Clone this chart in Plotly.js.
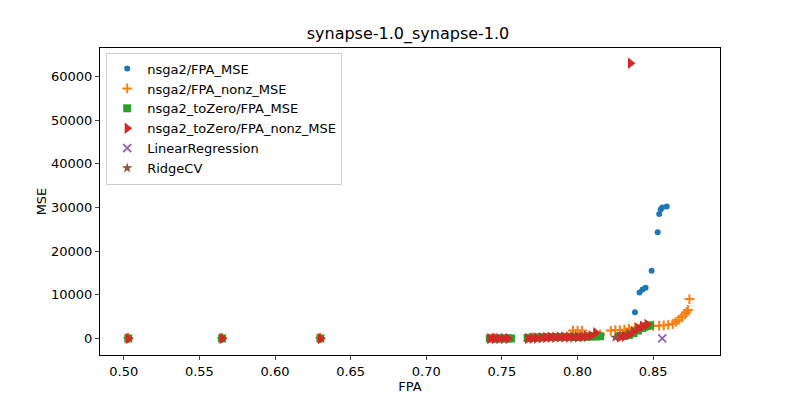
<!DOCTYPE html>
<html><head><script src="https://cdn.plot.ly/plotly-3.0.1.min.js"></script></head>
<body style="margin:0"><div id="c" style="width:800px;height:400px"></div>
<script>
const mseX = [0.503,0.565,0.630,0.745,0.752,0.772,0.790,0.805,0.815,0.830,0.838,0.841,0.843,0.845,0.849,0.853,0.854,0.855,0.856,0.859];
const mseY = [50,60,70,80,90,120,200,300,500,800,6000,10500,11200,11600,15500,24300,28500,29500,30000,30200];
const nonzX = [0.503,0.565,0.630,0.745,0.770,0.797,0.800,0.803,0.815,0.822,0.825,0.828,0.831,0.834,0.838,0.842,0.846,0.850,0.854,0.857,0.860,0.863,0.865,0.867,0.869,0.871,0.872,0.873,0.874];
const nonzY = [100,100,100,100,200,1800,1800,1800,900,1800,1900,1900,2000,2200,2500,2700,2800,2900,2900,3000,3100,3300,3800,4300,4900,5500,6000,6500,9000];
const tzX = [0.503,0.565,0.630,0.742,0.745,0.748,0.751,0.754,0.756,0.767,0.770,0.773,0.776,0.779,0.782,0.785,0.788,0.791,0.794,0.797,0.800,0.803,0.806,0.809,0.812,0.815,0.828,0.831,0.834,0.837,0.840,0.843,0.846,0.848];
const tzY = [0,0,0,0,0,0,0,0,0,100,150,200,250,250,300,300,300,300,350,350,350,400,400,450,450,500,500,600,800,1200,1800,2400,2800,3000];
const tzNzX = [0.503,0.565,0.630,0.742,0.745,0.748,0.751,0.754,0.767,0.770,0.773,0.776,0.779,0.782,0.785,0.788,0.791,0.794,0.797,0.800,0.803,0.806,0.809,0.812,0.828,0.831,0.834,0.835,0.837,0.840,0.843,0.846];
const tzNzY = [0,0,0,0,0,0,0,0,0,50,100,150,200,250,250,300,300,300,350,350,400,500,600,1300,300,500,900,63000,1500,2300,2800,3200];
const lrX = [0.856], lrY = [0];
const rcX = [0.825], rcY = [200];
const yTicks = [0,10000,20000,30000,40000,50000,60000];
const yTickText = ['0','10000','20000','30000','40000','50000','60000'];
const tr = (n,x,y,sym,col,sz) => ({type:'scatter',mode:'markers',name:n,x:x,y:y,marker:{symbol:sym,color:col,size:sz}});
const data = [
 tr('nsga2/FPA_MSE',mseX,mseY,'circle','#1f77b4',6),
 tr('nsga2/FPA_nonz_MSE',nonzX,nonzY,'cross-thin-open','#ff7f0e',7),
 tr('nsga2_toZero/FPA_MSE',tzX,tzY,'square','#2ca02c',8),
 tr('nsga2_toZero/FPA_nonz_MSE',tzNzX,tzNzY,'triangle-right','#d62728',10),
 tr('LinearRegression',lrX,lrY,'x-thin-open','#9467bd',8),
 tr('RidgeCV',rcX,rcY,'star','#8c564b',8)
];
data[1].marker.line={width:2,color:'#ff7f0e'};
data[4].marker.line={width:2,color:'#9467bd'};
const ax = {showgrid:false,zeroline:false,showline:true,mirror:true,linecolor:'#000',ticks:'outside',ticklen:4,tickfont:{size:13}};
Plotly.newPlot('c',data,{
 width:800,height:400,margin:{l:100,r:80,t:48,b:45},
 font:{family:'DejaVu Sans',size:13,color:'#000'},
 title:{text:'synapse-1.0_synapse-1.0',x:0.51,y:0.93,font:{size:16}},
 xaxis:Object.assign({},ax,{range:[0.4843,0.8942],dtick:0.05,tickformat:'.2f',title:{text:'FPA',standoff:4,font:{size:13}}}),
 yaxis:Object.assign({},ax,{range:[-3800,66500],tickvals:yTicks,ticktext:yTickText,title:{text:'MSE',font:{size:13}}}),
 legend:{x:0.01,y:0.985,bordercolor:'#ccc',borderwidth:1,font:{size:13},tracegroupgap:0,itemwidth:30,entrywidth:220},
 showlegend:true,plot_bgcolor:'#fff'
},{displayModeBar:false});
</script></body></html>
